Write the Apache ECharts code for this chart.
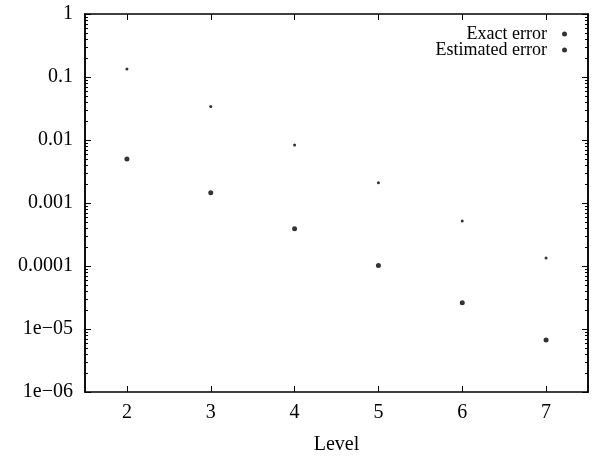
<!DOCTYPE html>
<html>
<head>
<meta charset="utf-8">
<script src="https://cdn.jsdelivr.net/npm/echarts@6/dist/echarts.min.js"></script>
<style>
  html, body { margin: 0; padding: 0; background: #fff; }
  #chart { width: 592px; height: 460px; }
</style>
</head>
<body>
<div id="chart"></div>
<script>
// levels on the x axis
var levels = [2, 3, 4, 5, 6, 7];
var exactError = [0.0050, 0.00145, 0.00039, 0.000102, 0.000026, 0.0000067];
var estimatedError = [0.134, 0.034, 0.0083, 0.0021, 0.00052, 0.000134];
// y ticks (decades)
var yTicks = [1e-6, 1e-5, 1e-4, 1e-3, 1e-2, 1e-1, 1];
var yTickLabels = ['1e\u221206', '1e\u221205', '0.0001', '0.001', '0.01', '0.1', '1'];

var font = 'Liberation Serif';

function pairs(ys) {
	var out = [];
	for (var i = 0; i < levels.length; i++) {
		out.push([levels[i], ys[i]]);
	}
	return out;
}

// minor ticks 2..9 in every decade
var yMinor = [];
for (var d = 0; d < yTicks.length - 1; d++) {
	for (var m = 2; m <= 9; m++) yMinor.push(yTicks[d] * m);
}

function yLabel(v) {
	for (var i = 0; i < yTicks.length; i++) {
		if (Math.abs(Math.log10(v) - Math.log10(yTicks[i])) < 1e-6) return yTickLabels[i];
	}
	return '';
}

var chart = echarts.init(document.getElementById('chart'));

var lineBlack = { show: true, lineStyle: { color: '#000', width: 1.5 } };

function yAxisOf(pos, ticks, len, labels) {
	return {
		type: 'log',
		logBase: 10,
		position: pos,
		min: 1e-6,
		max: 1,
		axisLine: lineBlack,
		axisTick: { show: true, inside: true, length: len, customValues: ticks, lineStyle: { color: '#000', width: 1 } },
		splitLine: { show: false },
		axisLabel: labels ? {
			fontFamily: font, fontSize: 20, color: '#000', margin: 12,
			customValues: yTicks, formatter: yLabel
		} : { show: false }
	};
}

function xAxisOf(pos, labels) {
	return {
		type: 'value',
		position: pos,
		min: 1.5,
		max: 7.5,
		name: labels ? 'Level' : '',
		nameLocation: 'middle',
		nameGap: 43,
		nameTextStyle: { fontFamily: font, fontSize: 20, color: '#000' },
		axisLine: lineBlack,
		axisTick: { show: true, inside: true, length: 6, customValues: levels, lineStyle: { color: '#000', width: 1 } },
		splitLine: { show: false },
		axisLabel: labels ? {
			fontFamily: font, fontSize: 20, color: '#000', margin: 11,
			customValues: levels
		} : { show: false }
	};
}

chart.setOption({
	animation: false,
	backgroundColor: '#fff',
	grid: { left: 85, right: 4, top: 14, bottom: 68, containLabel: false },
	legend: {
		right: 20,
		top: 20,
		orient: 'vertical',
		align: 'right',
		itemGap: -2,
		itemWidth: 5,
		itemHeight: 5,
		textStyle: { fontFamily: font, fontSize: 18, color: '#000', padding: [0, 10, 0, 0] },
		data: [
			{ name: 'Exact error', icon: 'circle', itemStyle: { color: '#000' } },
			{ name: 'Estimated error', icon: 'circle', itemStyle: { color: '#000' } }
		]
	},
	xAxis: [xAxisOf('bottom', true), xAxisOf('top', false)],
	yAxis: [
		yAxisOf('left', yTicks, 6, true),
		yAxisOf('right', yTicks, 6, false),
		yAxisOf('left', yMinor, 3, false),
		yAxisOf('right', yMinor, 3, false)
	],
	series: [{
		name: 'Exact error',
		type: 'scatter',
		symbol: 'circle',
		symbolSize: 5,
		itemStyle: { color: '#000' },
		data: pairs(exactError)
	}, {
		name: 'Estimated error',
		type: 'scatter',
		symbol: 'circle',
		symbolSize: 3,
		itemStyle: { color: '#000' },
		data: pairs(estimatedError)
	}]
});
</script>
</body>
</html>
